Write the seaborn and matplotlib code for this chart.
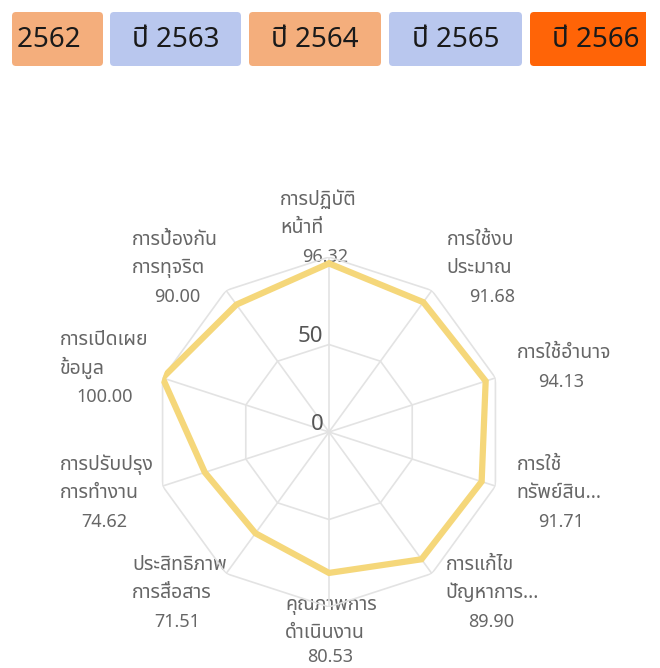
import numpy as np
import pandas as pd
import seaborn as sns
import matplotlib.pyplot as plt
from matplotlib.patches import FancyBboxPatch
from matplotlib.transforms import Bbox, TransformedBbox

# data
years = ['ปี 2562', 'ปี 2563', 'ปี 2564', 'ปี 2565', 'ปี 2566']
tab_colors = ['#F4AE7C', '#B9C7EE', '#F4AE7C', '#B9C7EE', '#FF6407']
categories = [
    ['การปฏิบัติ', 'หน้าที่'],
    ['การใช้งบ', 'ประมาณ'],
    ['การใช้อำนาจ'],
    ['การใช้', 'ทรัพย์สิน...'],
    ['การแก้ไข', 'ปัญหาการ...'],
    ['คุณภาพการ', 'ดำเนินงาน'],
    ['ประสิทธิภาพ', 'การสื่อสาร'],
    ['การปรับปรุง', 'การทำงาน'],
    ['การเปิดเผย', 'ข้อมูล'],
    ['การป้องกัน', 'การทุจริต'],
]
scores = [96.32, 91.68, 94.13, 91.71, 89.90, 80.53, 71.51, 74.62, 100.00, 90.00]
ticks = [0, 50, 100]

sns.set_theme(style='white')
plt.rcParams['font.family'] = ['Noto Sans Thai', 'Noto Sans', 'DejaVu Sans']

W, H = 660, 668
fig = plt.figure(figsize=(W / 100, H / 100), dpi=100)

# full-figure pixel space for labels
bg = fig.add_axes([0, 0, 1, 1])
bg.set_xlim(0, W)
bg.set_ylim(H, 0)
bg.axis('off')

# scrolled tab strip, clipped to its container
clip_l, clip_r = 12, 646
tabs = fig.add_axes([clip_l / W, 0, (clip_r - clip_l) / W, 1])
tabs.set_xlim(clip_l, clip_r)
tabs.set_ylim(H, 0)
tabs.axis('off')
tab_left = [12, 110, 249, 389, 530]
tab_w = [91, 131, 132, 133, 132]
text_cx = [37, 175.5, 315, 455.5, 596]
for yr, col, x0, w, tx in zip(years, tab_colors, tab_left, tab_w, text_cx):
    p = FancyBboxPatch((x0 + 3, 15), w - 6, 48,
                       boxstyle='round,pad=3,rounding_size=4', fc=col, ec='none')
    tabs.add_patch(p)
    p.set_clip_path(tabs.patch)
    txt = tabs.text(tx, 40, yr, ha='center', va='center', fontsize=20, color='#1a1a1a')
    x1 = min(x0 + w, clip_r)
    txt.set_clip_box(TransformedBbox(Bbox([[x0, 12], [x1, 66]]), tabs.transData))
    txt.set_clip_on(True)

# radar
n = len(scores)
theta = np.linspace(0, 2 * np.pi, n, endpoint=False)
cx, cy, R = 329, 432, 175
ax = fig.add_axes([(cx - R) / W, (H - cy - R) / H, 2 * R / W, 2 * R / H], projection='polar')
ax.set_theta_offset(np.pi / 2)
ax.set_theta_direction(-1)
ax.set_ylim(0, 100)
ax.grid(False)
ax.spines['polar'].set_visible(False)
ax.set_xticks([])
ax.set_yticks([])
ax.patch.set_alpha(0)

ring_t = np.append(theta, 2 * np.pi)
for t in ticks[1:]:
    ax.plot(ring_t, [t] * len(ring_t), color='#E3E3E3', lw=1.2, zorder=1)
for t in theta:
    ax.plot([t, t], [0, 100], color='#E3E3E3', lw=1.2, zorder=1)

df = pd.DataFrame({'theta': ring_t, 'score': scores + scores[:1]})
sns.lineplot(data=df, x='theta', y='score', sort=False, estimator=None,
             color='#F5D77A', lw=4.5, ax=ax, zorder=3, solid_joinstyle='miter')
ax.set_xlabel('')
ax.set_ylabel('')

for t in ticks[:2]:
    ax.annotate(str(t), (0, t), xytext=(-4, -2), textcoords='offset points',
                ha='right', va='bottom', fontsize=16, color='#555555')

# label block offsets (px) from each outer vertex to the block's top-left
offsets = [(-49, -67), (15, -60), (21, -35), (21, -31), (14, -19),
           (-44, -12), (-94, -19), (-103, -31), (-103, -48), (-94, -60)]
for t, name, val, (dx, dy) in zip(theta, categories, scores, offsets):
    vx = cx + R * np.sin(t)
    vy = cy - R * np.cos(t)
    x0, y0 = vx + dx, vy + dy
    for i, line in enumerate(name):
        bg.text(x0, y0 + 10 + i * 28, line, ha='left', va='center', fontsize=14,
                color='#666666')
    bg.text(x0 + 45, min(y0 + 10 + len(name) * 28 + 1, 657), f'{val:.2f}', ha='center',
            va='center', fontsize=13, color='#666666')

fig.savefig('out.png', dpi=100)
